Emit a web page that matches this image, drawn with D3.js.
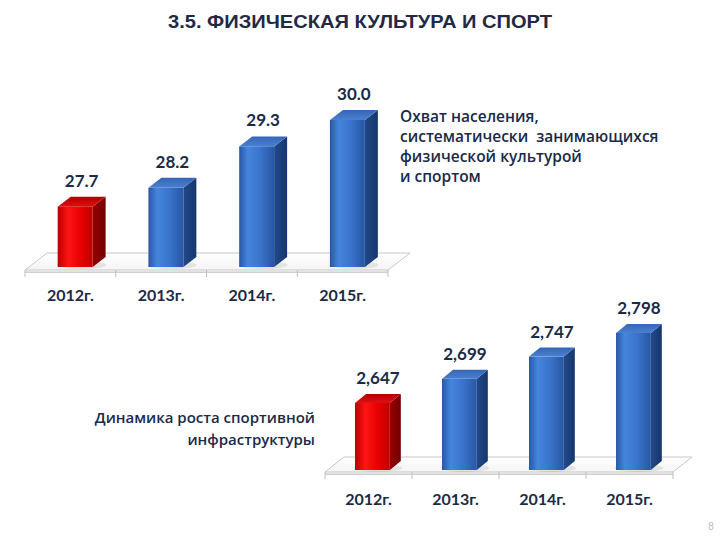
<!DOCTYPE html>
<html><head><meta charset="utf-8">
<script src="https://cdn.jsdelivr.net/npm/d3@7"></script>
<style>body{margin:0;background:#fff;}svg{display:block;}</style>
</head><body>
<script>
const categories = ["2012г.", "2013г.", "2014г.", "2015г."];
const coverage = [27.7, 28.2, 29.3, 30.0];
const infrastructure = [2647, 2699, 2747, 2798];
const highlight = [true, false, false, false];
const titleText = "3.5. ФИЗИЧЕСКАЯ КУЛЬТУРА И СПОРТ";
const note1 = ["Охват населения,", "систематически  занимающихся", "физической культурой", "и спортом"];
const note2 = ["Динамика роста спортивной", "инфраструктуры"];

const W = 720, H = 540;
const svg = d3.select("body").append("svg").attr("width", W).attr("height", H);
const defs = svg.append("defs");

function grad(id, stops, horiz = true) {
  const g = defs.append("linearGradient").attr("id", id)
    .attr("x1", 0).attr("y1", 0).attr("x2", horiz ? 1 : 0).attr("y2", horiz ? 0 : 1);
  stops.forEach(([o, c]) => g.append("stop").attr("offset", o).attr("stop-color", c));
}
grad("bFront", [[0, "#2857a6"], [0.25, "#4585dc"], [0.6, "#3a74cc"], [1, "#2856a2"]]);
grad("bSide", [[0, "#22498a"], [1, "#16376c"]]);
grad("bTop", [[0, "#3566b6"], [1, "#4a80d0"]], false);
grad("rFront", [[0, "#b80000"], [0.3, "#ff1414"], [0.65, "#e80000"], [1, "#c00000"]]);
grad("rSide", [[0, "#9a0000"], [1, "#700000"]]);
grad("rTop", [[0, "#b00000"], [1, "#e01010"]], false);
grad("floorG", [[0, "#ffffff"], [1, "#f4f4f4"]], false);

const txtColor = "#1b2a47";

svg.append("text").attr("x", 360).attr("y", 28).attr("text-anchor", "middle")
  .attr("font-family", "Liberation Sans, Arial, sans-serif").attr("font-size", 18)
  .attr("font-weight", 700).attr("fill", "#1f2a44")
  .attr("textLength", 384).attr("lengthAdjust", "spacingAndGlyphs").text(titleText);

function chart(cfg) {
  const g = svg.append("g");
  const x = d3.scaleBand().domain(categories).range([cfg.x0, cfg.x1]).padding(0);
  const y = d3.scaleLinear().domain(cfg.domain).range([cfg.base, cfg.top]);
  const bw = x.bandwidth();
  const fdx = cfg.fdx, fdy = cfg.fdy, front = cfg.floorY;
  g.append("path")
    .attr("d", `M${cfg.x0},${front} L${cfg.x0 + fdx},${front - fdy} L${cfg.x1 + fdx},${front - fdy} L${cfg.x1},${front} Z`)
    .attr("fill", "url(#floorG)").attr("stroke", "#c8c8c8").attr("stroke-width", 1);
  g.append("rect").attr("x", cfg.x0).attr("y", front).attr("width", cfg.x1 - cfg.x0).attr("height", 2.5)
    .attr("fill", "#e2e2e2");
  g.append("line").attr("x1", cfg.x0).attr("x2", cfg.x1).attr("y1", front + 2.5).attr("y2", front + 2.5)
    .attr("stroke", "#cfcfcf");
  const bounds = categories.map(c => x(c)).concat([cfg.x1]);
  g.selectAll(".tk").data(bounds).enter().append("line")
    .attr("x1", d => d).attr("x2", d => d).attr("y1", front).attr("y2", front + 7)
    .attr("stroke", "#bdbdbd");
  const dx = cfg.dx, dy = cfg.dy;
  const bars = g.selectAll(".bar").data(cfg.values).enter().append("g");
  bars.each(function (v, i) {
    const b = d3.select(this);
    const bx = x(categories[i]) + bw * cfg.off;
    const w = bw * cfg.wf;
    const top = y(v), bot = cfg.base;
    const red = highlight[i];
    b.append("ellipse").attr("cx", bx + w / 2 + dx / 2).attr("cy", bot - 2).attr("rx", w * 0.7).attr("ry", 4)
      .attr("fill", "#000").attr("opacity", 0.08);
    b.append("path")
      .attr("d", `M${bx + w},${top} L${bx + w + dx},${top - dy} L${bx + w + dx},${bot - dy} L${bx + w},${bot} Z`)
      .attr("fill", red ? "url(#rSide)" : "url(#bSide)");
    b.append("path")
      .attr("d", `M${bx},${top} L${bx + dx},${top - dy} L${bx + w + dx},${top - dy} L${bx + w},${top} Z`)
      .attr("fill", red ? "url(#rTop)" : "url(#bTop)");
    b.append("rect").attr("x", bx).attr("y", top).attr("width", w).attr("height", bot - top)
      .attr("fill", red ? "url(#rFront)" : "url(#bFront)");
    b.append("text").attr("x", bx + (w + dx) / 2).attr("y", top - dy - 10)
      .attr("text-anchor", "middle").attr("font-family", "Lato, sans-serif").attr("font-weight", 700)
      .attr("font-size", 17).attr("fill", txtColor).text(cfg.fmt(v));
  });
  const ax = g.append("g").attr("transform", `translate(0,${cfg.labelY})`)
    .call(d3.axisBottom(x).tickSize(0).tickPadding(0));
  ax.select(".domain").remove();
  ax.selectAll("text").attr("font-family", "Lato, sans-serif").attr("font-weight", 700)
    .attr("font-size", 16).attr("fill", txtColor).attr("dy", 0);
}

chart({ values: coverage, x0: 25, x1: 388, floorY: 270, fdx: 22, fdy: 17,
  domain: [26.1, 30.0], base: 267, top: 120, off: 0.36, wf: 0.385, dx: 13, dy: 10,
  fmt: d3.format(".1f"), labelY: 301 });
chart({ values: infrastructure, x0: 325, x1: 673, floorY: 472, fdx: 19, fdy: 15,
  domain: [2502, 2798], base: 470, top: 333, off: 0.345, wf: 0.40, dx: 11, dy: 9,
  fmt: d3.format(","), labelY: 505 });

const n1 = svg.append("text").attr("font-family", "Open Sans, sans-serif").attr("font-size", 15.5)
  .attr("font-weight", 600).attr("fill", txtColor).attr("xml:space", "preserve");
note1.forEach((t, i) => n1.append("tspan").attr("x", 400).attr("y", 122 + i * 20).text(t));
const n2 = svg.append("text").attr("font-family", "Open Sans, sans-serif").attr("font-size", 15)
  .attr("font-weight", 600).attr("fill", txtColor).attr("text-anchor", "end");
note2.forEach((t, i) => n2.append("tspan").attr("x", 315).attr("y", 423 + i * 22).text(t));

svg.append("text").attr("x", 711).attr("y", 530).attr("text-anchor", "middle")
  .attr("font-family", "Liberation Sans, Arial, sans-serif").attr("font-size", 10)
  .attr("fill", "#bbb").text("8");
</script>
</body></html>
